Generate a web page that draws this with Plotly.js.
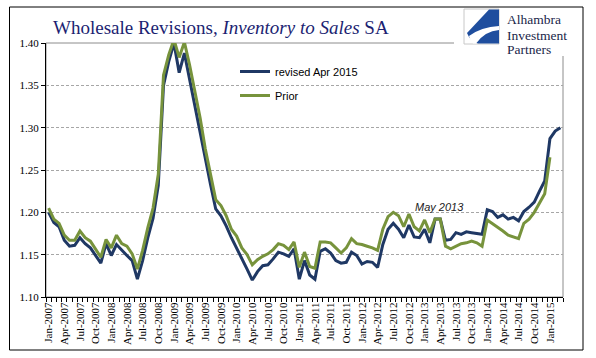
<!DOCTYPE html>
<html><head><meta charset="utf-8">
<script src="https://cdn.plot.ly/plotly-3.0.1.min.js"></script>
<style>html,body{margin:0;padding:0;background:#fff;} #chart{width:596px;height:358px;}</style>
</head><body><div id="chart"></div>
<script>
// Categories: Jan-2007 .. Mar-2015
const categories = [
 'Jan-2007','Feb-2007','Mar-2007','Apr-2007','May-2007','Jun-2007','Jul-2007','Aug-2007','Sep-2007','Oct-2007','Nov-2007','Dec-2007',
 'Jan-2008','Feb-2008','Mar-2008','Apr-2008','May-2008','Jun-2008','Jul-2008','Aug-2008','Sep-2008','Oct-2008','Nov-2008','Dec-2008',
 'Jan-2009','Feb-2009','Mar-2009','Apr-2009','May-2009','Jun-2009','Jul-2009','Aug-2009','Sep-2009','Oct-2009','Nov-2009','Dec-2009',
 'Jan-2010','Feb-2010','Mar-2010','Apr-2010','May-2010','Jun-2010','Jul-2010','Aug-2010','Sep-2010','Oct-2010','Nov-2010','Dec-2010',
 'Jan-2011','Feb-2011','Mar-2011','Apr-2011','May-2011','Jun-2011','Jul-2011','Aug-2011','Sep-2011','Oct-2011','Nov-2011','Dec-2011',
 'Jan-2012','Feb-2012','Mar-2012','Apr-2012','May-2012','Jun-2012','Jul-2012','Aug-2012','Sep-2012','Oct-2012','Nov-2012','Dec-2012',
 'Jan-2013','Feb-2013','Mar-2013','Apr-2013','May-2013','Jun-2013','Jul-2013','Aug-2013','Sep-2013','Oct-2013','Nov-2013','Dec-2013',
 'Jan-2014','Feb-2014','Mar-2014','Apr-2014','May-2014','Jun-2014','Jul-2014','Aug-2014','Sep-2014','Oct-2014','Nov-2014','Dec-2014',
 'Jan-2015','Feb-2015','Mar-2015'
];

const revised = [
 1.200,1.188,1.183,1.167,1.160,1.161,1.170,1.163,1.158,1.149,1.140,1.163,
 1.149,1.162,1.155,1.149,1.143,1.121,1.143,1.170,1.193,1.232,1.350,1.378,
 1.400,1.365,1.388,1.358,1.327,1.294,1.264,1.233,1.204,1.196,1.184,1.170,
 1.158,1.145,1.133,1.120,1.130,1.137,1.138,1.145,1.153,1.151,1.148,1.157,
 1.121,1.143,1.126,1.121,1.154,1.157,1.152,1.143,1.140,1.141,1.153,1.149,
 1.139,1.142,1.141,1.135,1.162,1.180,1.187,1.180,1.170,1.185,1.171,1.170,
 1.180,1.164,1.192,1.192,1.167,1.168,1.176,1.174,1.177,1.176,1.175,1.174,
 1.203,1.201,1.194,1.197,1.192,1.194,1.190,1.201,1.206,1.212,1.225,1.237,
 1.287,1.296,1.300
];

const prior = [
 1.205,1.192,1.187,1.173,1.167,1.167,1.178,1.170,1.166,1.157,1.147,1.168,
 1.158,1.173,1.163,1.160,1.151,1.133,1.155,1.182,1.205,1.245,1.362,1.386,
 1.404,1.383,1.401,1.374,1.343,1.312,1.275,1.243,1.215,1.208,1.196,1.180,
 1.172,1.158,1.150,1.138,1.144,1.148,1.151,1.156,1.163,1.161,1.156,1.165,
 1.135,1.153,1.136,1.134,1.165,1.165,1.164,1.158,1.152,1.158,1.169,1.163,
 1.162,1.160,1.158,1.155,1.180,1.195,1.200,1.196,1.183,1.198,1.183,1.178,
 1.191,1.176,1.192,1.192,1.160,1.157,1.160,1.163,1.164,1.166,1.164,1.160,
 1.191,1.187,1.183,1.178,1.173,1.171,1.169,1.187,1.192,1.200,1.211,1.222,
 1.265
];

const seriesNames = ['revised Apr 2015', 'Prior'];
const tickText = categories.map((c, i) => (i % 3 === 0 ? c : ''));
const logoLines = ['Alhambra', 'Investment', 'Partners'];

// plot-area geometry (pixels) for placing decorations
const PL = 46, PT = 43, PW = 517, PH = 254;
const fx = px => (px - PL) / PW;
const fy = py => (PT + PH - py) / PH;
function P(cmds) {
  return cmds.map(c => c[0] + c.slice(1).map((v, j) => (j % 2 === 0 ? fx(v) : fy(v)).toFixed(5)).join(',')).join(' ');
}

const traces = [
  {x: categories.slice(0, revised.length), y: revised, name: seriesNames[0], type: 'scatter', mode: 'lines',
   line: {color: '#1F3864', width: 3, shape: 'linear'}, legendgroup: 'a'},
  {x: categories.slice(0, prior.length), y: prior, name: seriesNames[1], type: 'scatter', mode: 'lines',
   line: {color: '#77933C', width: 3, shape: 'linear'}, legendgroup: 'b'}
];

const logoY = [20, 35, 50];
const logoAnn = logoLines.map((t, i) => ({
  text: t, xref: 'paper', yref: 'paper', x: fx(505), y: fy(logoY[i]), xanchor: 'left', yanchor: 'middle', showarrow: false,
  font: {family: 'Liberation Serif', size: 13.5, color: '#1A1F4A'}
}));

const layout = {
  width: 596, height: 358,
  margin: {l: PL, r: 596 - PL - PW, t: PT, b: 358 - PT - PH, pad: 0},
  paper_bgcolor: '#ffffff', plot_bgcolor: '#ffffff',
  title: {
    text: 'Wholesale Revisions, <i>Inventory to Sales</i> SA',
    font: {family: 'Liberation Serif', size: 19, color: '#1C1F72'},
    xref: 'container', yref: 'container', x: 53 / 596, xanchor: 'left', y: 1 - 27 / 358, yanchor: 'middle'
  },
  showlegend: true,
  legend: {
    x: fx(235), y: fy(57), xanchor: 'left', yanchor: 'top',
    font: {family: 'Liberation Sans', size: 11, color: '#000'},
    bgcolor: 'rgba(0,0,0,0)', traceorder: 'grouped', tracegroupgap: 5
  },
  xaxis: {
    type: 'category', categoryorder: 'array', categoryarray: categories,
    range: [-0.5, categories.length - 0.5],
    tickmode: 'array', tickvals: categories, ticktext: tickText,
    tickson: 'boundaries', ticks: 'outside', ticklen: 4, tickcolor: '#000', tickwidth: 1,
    tickangle: -90, tickfont: {family: 'Liberation Serif', size: 11, color: '#000'},
    showline: true, linecolor: '#000', linewidth: 1, showgrid: false, zeroline: false, fixedrange: true
  },
  yaxis: {
    range: [1.10, 1.40], dtick: 0.05, tick0: 1.10, tickformat: '.2f',
    ticks: 'outside', ticklen: 4, tickcolor: '#000', tickwidth: 1,
    tickfont: {family: 'Liberation Serif', size: 11, color: '#000'},
    showline: true, linecolor: '#000', linewidth: 1,
    showgrid: true, gridcolor: '#A6A6A6', gridwidth: 1, griddash: '3px,2px', zeroline: false, fixedrange: true
  },
  shapes: [
    {type: 'rect', xref: 'paper', yref: 'paper', x0: fx(9.5), x1: fx(583), y0: fy(350), y1: fy(7),
     line: {color: '#000', width: 1}, fillcolor: 'rgba(0,0,0,0)', layer: 'above'},
    {type: 'rect', xref: 'paper', yref: 'paper', x0: 0, x1: 1, y0: 0, y1: 1,
     line: {color: '#8C8C8C', width: 1}, fillcolor: 'rgba(0,0,0,0)', layer: 'below'},
    {type: 'rect', xref: 'paper', yref: 'paper', x0: fx(454), x1: fx(578), y0: fy(56), y1: fy(8),
     line: {width: 0}, fillcolor: '#ffffff', layer: 'above'},
    {type: 'rect', xref: 'paper', yref: 'paper', x0: fx(464), x1: fx(499), y0: fy(44), y1: fy(9),
     line: {color: '#C8C8C8', width: 1}, fillcolor: '#ffffff', layer: 'above'},
    {type: 'path', xref: 'paper', yref: 'paper', layer: 'above', line: {width: 0}, fillcolor: '#1F4E9E',
     path: P([['M', 499, 9.5], ['L', 489, 9.5], ['L', 467, 33], ['Q', 470, 41, 478, 43.5], ['L', 499, 43.5], ['Z']])},
    {type: 'path', xref: 'paper', yref: 'paper', layer: 'above', line: {width: 0}, fillcolor: '#ffffff',
     path: P([['M', 469, 36], ['Q', 481, 27, 499, 26], ['L', 499, 30], ['Q', 485, 31, 476, 43.5], ['L', 473, 43.5], ['Q', 470, 40, 469, 36], ['Z']])}
  ],
  annotations: logoAnn.concat([
    {text: '<i>May 2013</i>', xref: 'paper', yref: 'paper', x: fx(439), y: fy(207), xanchor: 'center', yanchor: 'middle', showarrow: false,
     font: {family: 'Liberation Sans', size: 11, color: '#222'}}
  ])
};

Plotly.newPlot('chart', traces, layout, {staticPlot: true, displayModeBar: false});
</script>
</body></html>
